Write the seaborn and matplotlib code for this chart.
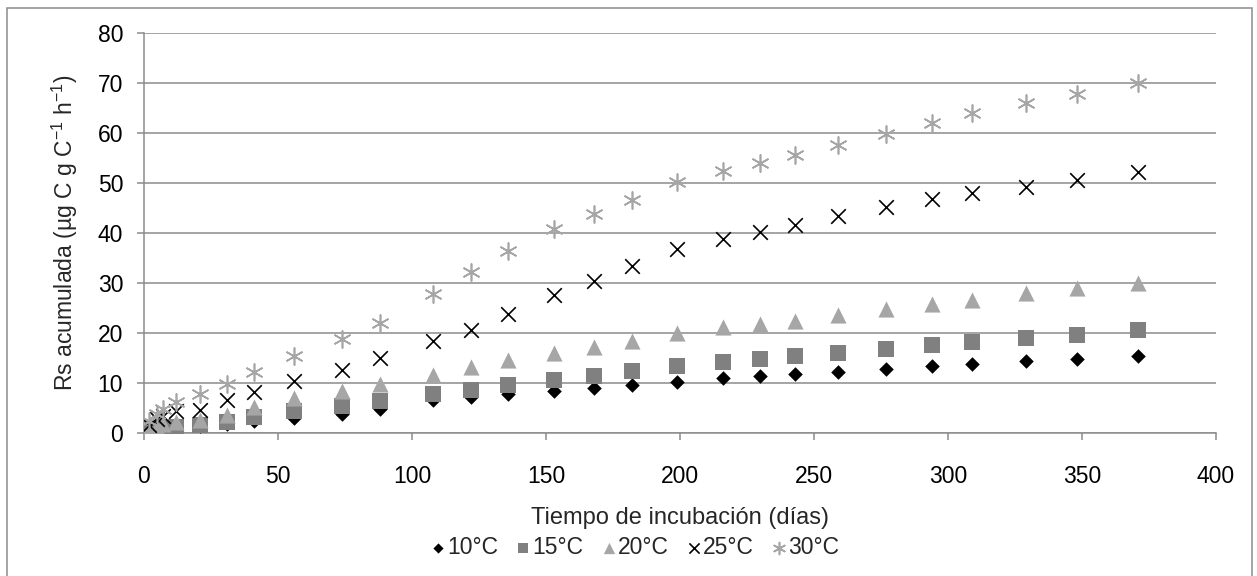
import matplotlib
matplotlib.use('Agg')
import matplotlib.pyplot as plt
import seaborn as sns
import pandas as pd
from matplotlib.patches import Rectangle

# incubation days and cumulative Rs per temperature
days = [2, 5, 7, 12, 21, 31, 41, 56, 74, 88, 108, 122, 136, 153, 168, 182,
        199, 216, 230, 243, 259, 277, 294, 309, 329, 348, 371]
rs_10 = [0.2, 0.5, 0.7, 1.0, 1.4, 1.9, 2.4, 3.0, 3.9, 4.8, 6.7, 7.2, 7.8, 8.5,
         9.1, 9.7, 10.3, 11.0, 11.4, 11.8, 12.3, 12.9, 13.5, 13.8, 14.4, 14.9, 15.5]
rs_15 = [0.4, 0.8, 1.1, 1.3, 1.7, 2.3, 3.3, 4.4, 5.4, 6.4, 7.8, 8.7, 9.6, 10.7,
         11.4, 12.4, 13.4, 14.3, 14.9, 15.4, 16.0, 16.9, 17.6, 18.2, 19.1, 19.7, 20.6]
rs_20 = [0.8, 1.3, 1.8, 2.3, 2.7, 3.6, 5.3, 7.0, 8.5, 9.8, 11.6, 13.3, 14.6, 16.0,
         17.3, 18.5, 20.1, 21.2, 21.9, 22.5, 23.7, 24.9, 25.9, 26.7, 28.0, 29.0, 30.0]
rs_25 = [1.7, 2.8, 3.5, 4.5, 4.6, 6.6, 8.2, 10.4, 12.7, 15.0, 18.4, 20.7, 23.9, 27.6,
         30.4, 33.4, 36.8, 38.9, 40.3, 41.6, 43.4, 45.2, 46.8, 48.0, 49.3, 50.7, 52.2]
rs_30 = [2.5, 3.8, 4.8, 6.3, 7.8, 9.8, 12.2, 15.5, 18.8, 22.0, 27.8, 32.3, 36.5, 40.9,
         43.8, 46.7, 50.2, 52.5, 54.0, 55.6, 57.7, 59.8, 62.0, 64.0, 66.0, 67.9, 70.0]
temps = ['10°C', '15°C', '20°C', '25°C', '30°C']

df = pd.DataFrame({'dia': days, '10°C': rs_10, '15°C': rs_15, '20°C': rs_20,
                   '25°C': rs_25, '30°C': rs_30})
df = df.melt(id_vars='dia', var_name='temp', value_name='rs')

styles = {
    '10°C': dict(marker='D', color='black', s=55, linewidth=0),
    '15°C': dict(marker='s', color='#808080', s=125, linewidth=0),
    '20°C': dict(marker='^', color='#a6a6a6', s=135, linewidth=0),
    '25°C': dict(marker='x', color='black', s=110, linewidth=1.2),
    '30°C': dict(marker=(6, 2, 0), color='#a6a6a6', s=150, linewidth=1.2),
}

FS = 16.5

sns.set_style('white')
plt.rcParams['font.family'] = ['Liberation Sans', 'DejaVu Sans']
plt.rcParams['mathtext.fontset'] = 'custom'
plt.rcParams['mathtext.rm'] = 'Liberation Sans'

fig = plt.figure(figsize=(12.57, 5.76), dpi=100)
ax = fig.add_axes([144 / 1257, 1 - 433 / 576, 1072 / 1257, 400 / 576])

for t in temps:
    sub = df[df['temp'] == t]
    sns.scatterplot(data=sub, x='dia', y='rs', label=t, ax=ax, zorder=3, **styles[t])

ax.set_xlim(0, 400)
ax.set_ylim(0, 80)
ax.set_xticks(range(0, 401, 50))
ax.set_yticks(range(0, 81, 10))
ax.yaxis.grid(True, color='#8c8c8c', linewidth=1.1)
ax.set_axisbelow(True)
for side in ['top', 'right']:
    ax.spines[side].set_visible(False)
for side in ['left', 'bottom']:
    ax.spines[side].set_color('#8c8c8c')
    ax.spines[side].set_linewidth(1.1)
ax.tick_params(axis='both', direction='out', length=5, width=1.1, color='#8c8c8c',
               labelsize=FS, labelcolor='black')
ax.tick_params(axis='y', pad=10, left=True)
ax.tick_params(axis='x', pad=18, bottom=True)

ax.set_xlabel('Tiempo de incubación (días)', fontsize=17, va='center')
ax.xaxis.set_label_coords(0.5, (433 - 518) / 400)
ax.set_ylabel(r'Rs acumulada (µg C g C$^{\mathrm{-1}}$ h$^{\mathrm{-1}}$)', fontsize=FS, va='center')
ax.yaxis.set_label_coords((65 - 144) / 1072, 0.5)

handles, labels = ax.get_legend_handles_labels()
ax.legend(handles, labels, loc='center', bbox_to_anchor=(634 / 1257, 1 - 548 / 576),
          bbox_transform=fig.transFigure, ncol=5, frameon=False, fontsize=FS,
          handletextpad=0.0, columnspacing=0.7, handlelength=0.8, markerscale=0.7,
          borderpad=0.1)

fig.patches.append(Rectangle((7 / 1257, -0.01), 1245 / 1257, 1 - 8 / 576 + 0.01,
                             transform=fig.transFigure, fill=False,
                             edgecolor='#8c8c8c', linewidth=1.1))

fig.savefig('out.png', dpi=100)
